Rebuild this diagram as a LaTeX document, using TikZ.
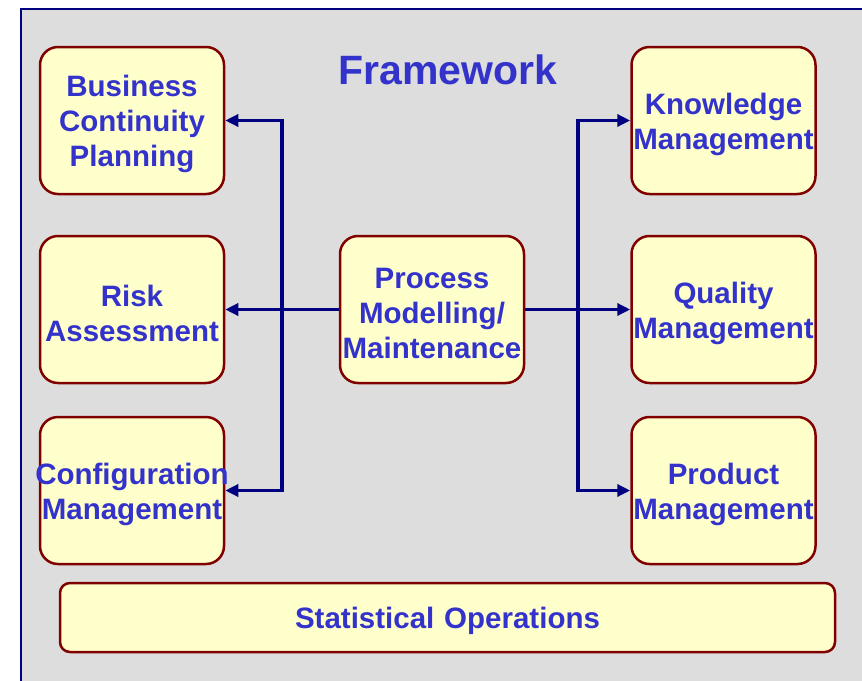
\documentclass[tikz,border=0pt]{standalone}
\usepackage{fontspec}
\setmainfont{Liberation Sans}
\usetikzlibrary{arrows.meta}
\definecolor{bggray}{HTML}{DDDDDD}
\definecolor{boxfill}{HTML}{FFFFCC}
\definecolor{boxline}{HTML}{800000}
\definecolor{txtblue}{HTML}{3333CC}
\definecolor{navy}{HTML}{000080}
\begin{document}
\begin{tikzpicture}[x=1pt,y=-1pt,
	box/.style={draw=boxline,fill=boxfill,line width=2.5pt,rounded corners=18pt,text width=184pt,minimum height=147pt,inner sep=0pt,align=center,text=txtblue,font=\bfseries\fontsize{29.5}{35}\selectfont,execute at begin node=\rule{0pt}{29pt}},
	arr/.style={draw=navy,line width=3.5pt,-{Triangle[length=13pt,width=12pt]}}]
		\useasboundingbox (0,0) rectangle (862,680);
		\draw[fill=bggray,draw=navy,line width=2pt] (21,9) rectangle (880,700);
		\node[text=txtblue,font=\bfseries\fontsize{41}{48}\selectfont] (title) at (448,70) {Framework};
		
		\node[box] (bcp) at (132,120.5) {Business\\Continuity\\Planning};
		\node[box] (risk) at (132,309.5) {Risk\\Assessment};
		\node[box] (config) at (132,490.5) {\makebox[\linewidth]{Configuration}\\Management};
		\node[box] (proc) at (432,309.5) {Process\\Modelling/\\Maintenance};
		\node[box] (km) at (723.5,120.5) {Knowledge\\Management};
		\node[box] (qm) at (723.5,309.5) {Quality\\Management};
		\node[box] (pm) at (723.5,490.5) {Product\\Management};
		\node[box,rounded corners=10pt,text width=775pt,minimum height=69pt] (stat) at (447.5,617.5) {Statistical Operations};
		
		\coordinate (lj) at (282,309.5);
		\coordinate (rj) at (578,309.5);
		\draw[arr] (proc) -- (risk);
		\draw[arr] (lj) |- (bcp);
		\draw[arr] (lj) |- (config);
		\draw[arr] (proc) -- (qm);
		\draw[arr] (rj) |- (km);
		\draw[arr] (rj) |- (pm);
	\end{tikzpicture}
\end{document}
